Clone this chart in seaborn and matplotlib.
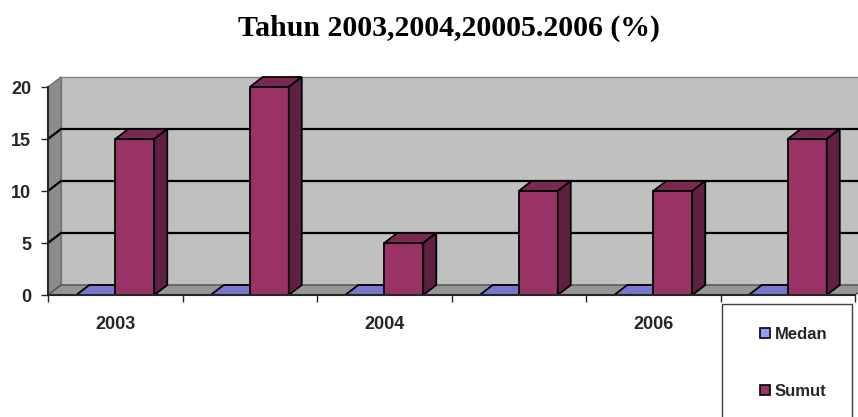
import numpy as np
import pandas as pd
import matplotlib.pyplot as plt
import seaborn as sns
from matplotlib.patches import Polygon, Rectangle, Patch

# data
tahun = ['2003', '', '2004', '', '2006', '']
medan = [0, 0, 0, 0, 0, 0]
sumut = [15, 20, 5, 10, 10, 15]
seri = ['Medan', 'Sumut']
warna = {'Medan': '#9999FF', 'Sumut': '#993366'}
warna_atas = {'Medan': '#7777CC', 'Sumut': '#7A2952'}
warna_samping = {'Medan': '#5C5C99', 'Sumut': '#5F2041'}
yticks = [0, 5, 10, 15, 20]

df = pd.DataFrame({
    'kategori': list(range(len(tahun))) * 2,
    'nilai': medan + sumut,
    'seri': ['Medan'] * len(medan) + ['Sumut'] * len(sumut),
})

sns.set_style('white')
plt.rcParams['font.family'] = ['Liberation Sans', 'DejaVu Sans']
plt.rcParams['font.weight'] = 'bold'

fig = plt.figure(figsize=(8.58, 4.17), dpi=100)
W, H = 858, 417
ax = fig.add_axes([48 / W, (H - 295) / H, 807 / W, 208 / H])

sns.barplot(data=df, x='kategori', y='nilai', hue='seri', palette=warna,
            width=0.58, saturation=1, edgecolor='black', linewidth=1.3,
            legend=False, ax=ax, zorder=2)

x0, x1 = -0.5, len(tahun) - 0.5
ax.set_xlim(x0, x1)
ax.set_ylim(0, 20)

# depth of the fake 3d effect, pixels -> data units
dpx, dpy = 13, 10
dx = dpx * (x1 - x0) / 807
dy = dpy * 20 / 208

# walls and floor
ax.add_patch(Polygon([(x0 + dx, dy), (x1 + dx, dy), (x1 + dx, 20 + dy), (x0 + dx, 20 + dy)],
                     closed=True, fc='#C0C0C0', ec='#808080', lw=1, zorder=0.5, clip_on=False))
ax.add_patch(Polygon([(x0, 0), (x0 + dx, dy), (x0 + dx, 20 + dy), (x0, 20)],
                     closed=True, fc='#8C8C8C', ec='#707070', lw=1, zorder=0.6, clip_on=False))
ax.add_patch(Polygon([(x0, 0), (x1, 0), (x1 + dx, dy), (x0 + dx, dy)],
                     closed=True, fc='#969696', ec='#505050', lw=1, zorder=0.6, clip_on=False))

# gridlines on side wall + back wall (the top one is the wall edge)
for yv in yticks[1:-1]:
    ax.plot([x0, x0 + dx, x1 + dx], [yv, yv + dy, yv + dy], color='black', lw=1.6,
            zorder=0.7, clip_on=False)

# sides and tops of the bars
medan_rgb = plt.matplotlib.colors.to_rgb(warna['Medan'])
for p in ax.patches[:]:
    if not isinstance(p, Rectangle) or p.get_zorder() != 2:
        continue
    bx, bw, bh = p.get_x(), p.get_width(), p.get_height()
    s = 'Medan' if np.allclose(p.get_facecolor()[:3], medan_rgb) else 'Sumut'
    zo = 0.8 if bh == 0 else 2.1
    ax.add_patch(Polygon([(bx, bh), (bx + bw, bh), (bx + bw + dx, bh + dy), (bx + dx, bh + dy)],
                         closed=True, fc=warna_atas[s], ec='black', lw=1.3, zorder=zo, clip_on=False))
    if bh > 0:
        ax.add_patch(Polygon([(bx + bw, 0), (bx + bw + dx, dy), (bx + bw + dx, bh + dy), (bx + bw, bh)],
                             closed=True, fc=warna_samping[s], ec='black', lw=1.3, zorder=2.1, clip_on=False))

# axes styling
sns.despine(ax=ax, top=True, right=True)
ax.spines['left'].set_linewidth(1.5)
ax.spines['bottom'].set_linewidth(1.5)
ax.spines['left'].set_zorder(3)
ax.spines['bottom'].set_zorder(3)
ax.set_xlabel('')
ax.set_ylabel('')
ax.set_yticks(yticks)
ax.set_yticklabels([str(v) for v in yticks], fontsize=13, fontweight='bold')
ax.set_xticks(np.arange(x0, x1 + 0.01, 1))
ax.set_xticklabels([])
ax.set_xticks(range(len(tahun)), labels=tahun, minor=True)
ax.tick_params(axis='x', which='major', length=5, width=1, direction='out', bottom=True)
ax.tick_params(axis='x', which='minor', length=0, pad=15, labelsize=13)
ax.tick_params(axis='y', length=5, width=1, direction='out', left=True, pad=7)
for t in ax.get_xticklabels(minor=True):
    t.set_fontweight('bold')

fig.text(449 / W, 1 - 28 / H, 'Tahun 2003,2004,20005.2006 (%)', ha='center', va='center',
         fontsize=21.5, fontweight='bold', color='black',
         family=['Liberation Serif', 'DejaVu Serif'])

# legend box
fig.patches.append(Rectangle((722 / W, -0.05), 130 / W, 0.05 + (H - 304) / H,
                             transform=fig.transFigure, fc='white', ec='#404040', lw=1))
handles = [Patch(facecolor=warna[s], edgecolor='black', lw=1.2) for s in seri]
fig.legend(handles, seri, loc='upper left', bbox_to_anchor=(752 / W, 1 - 319 / H),
           frameon=False, fontsize=12, handlelength=0.55, handleheight=0.55,
           handletextpad=0.3, labelspacing=2.5, borderpad=0)

fig.savefig('out.png', dpi=100)
